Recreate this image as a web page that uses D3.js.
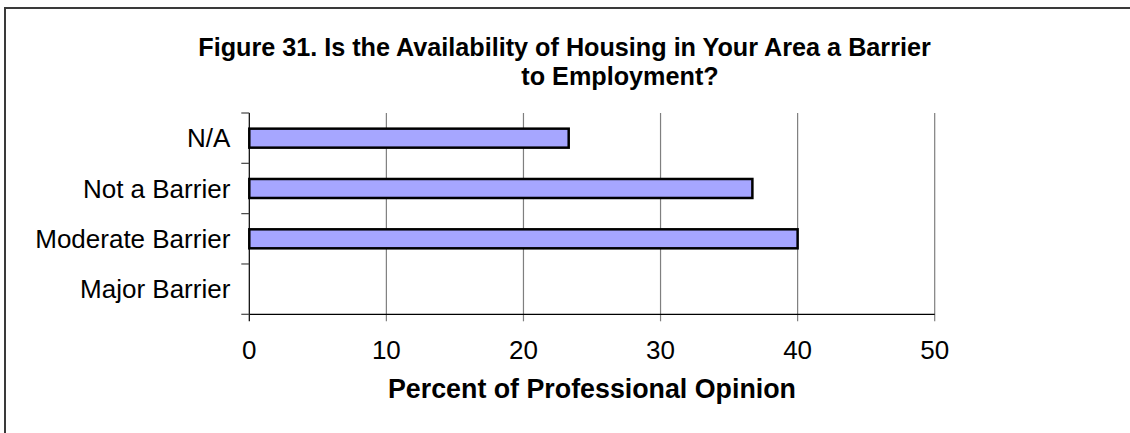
<!DOCTYPE html>
<html>
<head>
<meta charset="utf-8">
<script src="https://cdn.jsdelivr.net/npm/d3@7"></script>
<style>
  html, body { margin: 0; padding: 0; background: #fff; }
  svg { display: block; }
  text { font-family: "Liberation Sans", Arial, sans-serif; fill: #000; }
</style>
</head>
<body>
<svg id="chart" width="1130" height="433"></svg>
<script>
// Survey responses, top to bottom
const categories = ["N/A", "Not a Barrier", "Moderate Barrier", "Major Barrier"];
const percents = [23.3, 36.7, 40.0, 0];
const xTicks = [0, 10, 20, 30, 40, 50];
const titleLines = [
  "Figure 31. Is the Availability of Housing in Your Area a Barrier",
  "to Employment?"
];
const xTitle = "Percent of Professional Opinion";

const svg = d3.select("#chart");
const W = 1130, H = 433;

// chart frame (runs off the right and bottom edges)
svg.append("rect")
  .attr("x", 5).attr("y", 8)
  .attr("width", W + 40).attr("height", H + 40)
  .attr("fill", "#fff")
  .attr("stroke", "#3a3a3a")
  .attr("stroke-width", 2);

const plot = { left: 249.3, right: 934.7, top: 113, bottom: 314.3 };

const x = d3.scaleLinear().domain([0, 50]).range([plot.left, plot.right]);
const y = d3.scaleBand().domain(categories).range([plot.top, plot.bottom]);

// title, two centred lines
const titleCx = [564.5, 620];
svg.append("g").selectAll("text")
  .data(titleLines)
  .join("text")
  .attr("x", (d, i) => titleCx[i])
  .attr("y", (d, i) => 56 + i * 29)
  .attr("text-anchor", "middle")
  .attr("font-size", 25.2)
  .attr("font-weight", "bold")
  .text(d => d);

// vertical gridlines (extend down as tick marks)
svg.append("g").selectAll("line")
  .data(xTicks.filter(t => t > 0))
  .join("line")
  .attr("x1", d => x(d)).attr("x2", d => x(d))
  .attr("y1", plot.top).attr("y2", plot.bottom + 7)
  .attr("stroke", "#7f7f7f")
  .attr("stroke-width", 1.2);

// bottom axis line and tick at zero
svg.append("line")
  .attr("x1", x(0)).attr("x2", x(50))
  .attr("y1", plot.bottom).attr("y2", plot.bottom)
  .attr("stroke", "#000").attr("stroke-width", 1.2);
svg.append("line")
  .attr("x1", x(0)).attr("x2", x(0))
  .attr("y1", plot.bottom).attr("y2", plot.bottom + 7)
  .attr("stroke", "#000").attr("stroke-width", 1.2);

// left category axis with ticks at band edges
svg.append("line")
  .attr("x1", x(0)).attr("x2", x(0))
  .attr("y1", plot.top).attr("y2", plot.bottom)
  .attr("stroke", "#000").attr("stroke-width", 1.2);
const bandEdges = categories.map(c => y(c)).concat([plot.bottom]);
svg.append("g").selectAll("line")
  .data(bandEdges)
  .join("line")
  .attr("x1", x(0) - 8).attr("x2", x(0))
  .attr("y1", d => d).attr("y2", d => d)
  .attr("stroke", "#444").attr("stroke-width", 1.2);

// bars
const barH = 19;
svg.append("g").selectAll("rect")
  .data(categories.map((c, i) => ({ c, v: percents[i] })).filter(d => d.v > 0))
  .join("rect")
  .attr("x", x(0))
  .attr("y", d => y(d.c) + y.bandwidth() / 2 - barH / 2)
  .attr("width", d => x(d.v) - x(0))
  .attr("height", barH)
  .attr("fill", "#a6a6ff")
  .attr("stroke", "#000")
  .attr("stroke-width", 2.5);

// category labels
svg.append("g").selectAll("text")
  .data(categories)
  .join("text")
  .attr("x", x(0) - 19)
  .attr("y", d => y(d) + y.bandwidth() / 2 + 9.3)
  .attr("text-anchor", "end")
  .attr("font-size", 26)
  .text(d => d);

// value tick labels
svg.append("g").selectAll("text")
  .data(xTicks)
  .join("text")
  .attr("x", d => x(d))
  .attr("y", plot.bottom + 45)
  .attr("text-anchor", "middle")
  .attr("font-size", 26)
  .text(d => d);

// axis title
svg.append("text")
  .attr("x", (plot.left + plot.right) / 2)
  .attr("y", 398)
  .attr("text-anchor", "middle")
  .attr("font-size", 26.8)
  .attr("font-weight", "bold")
  .text(xTitle);
</script>
</body>
</html>
